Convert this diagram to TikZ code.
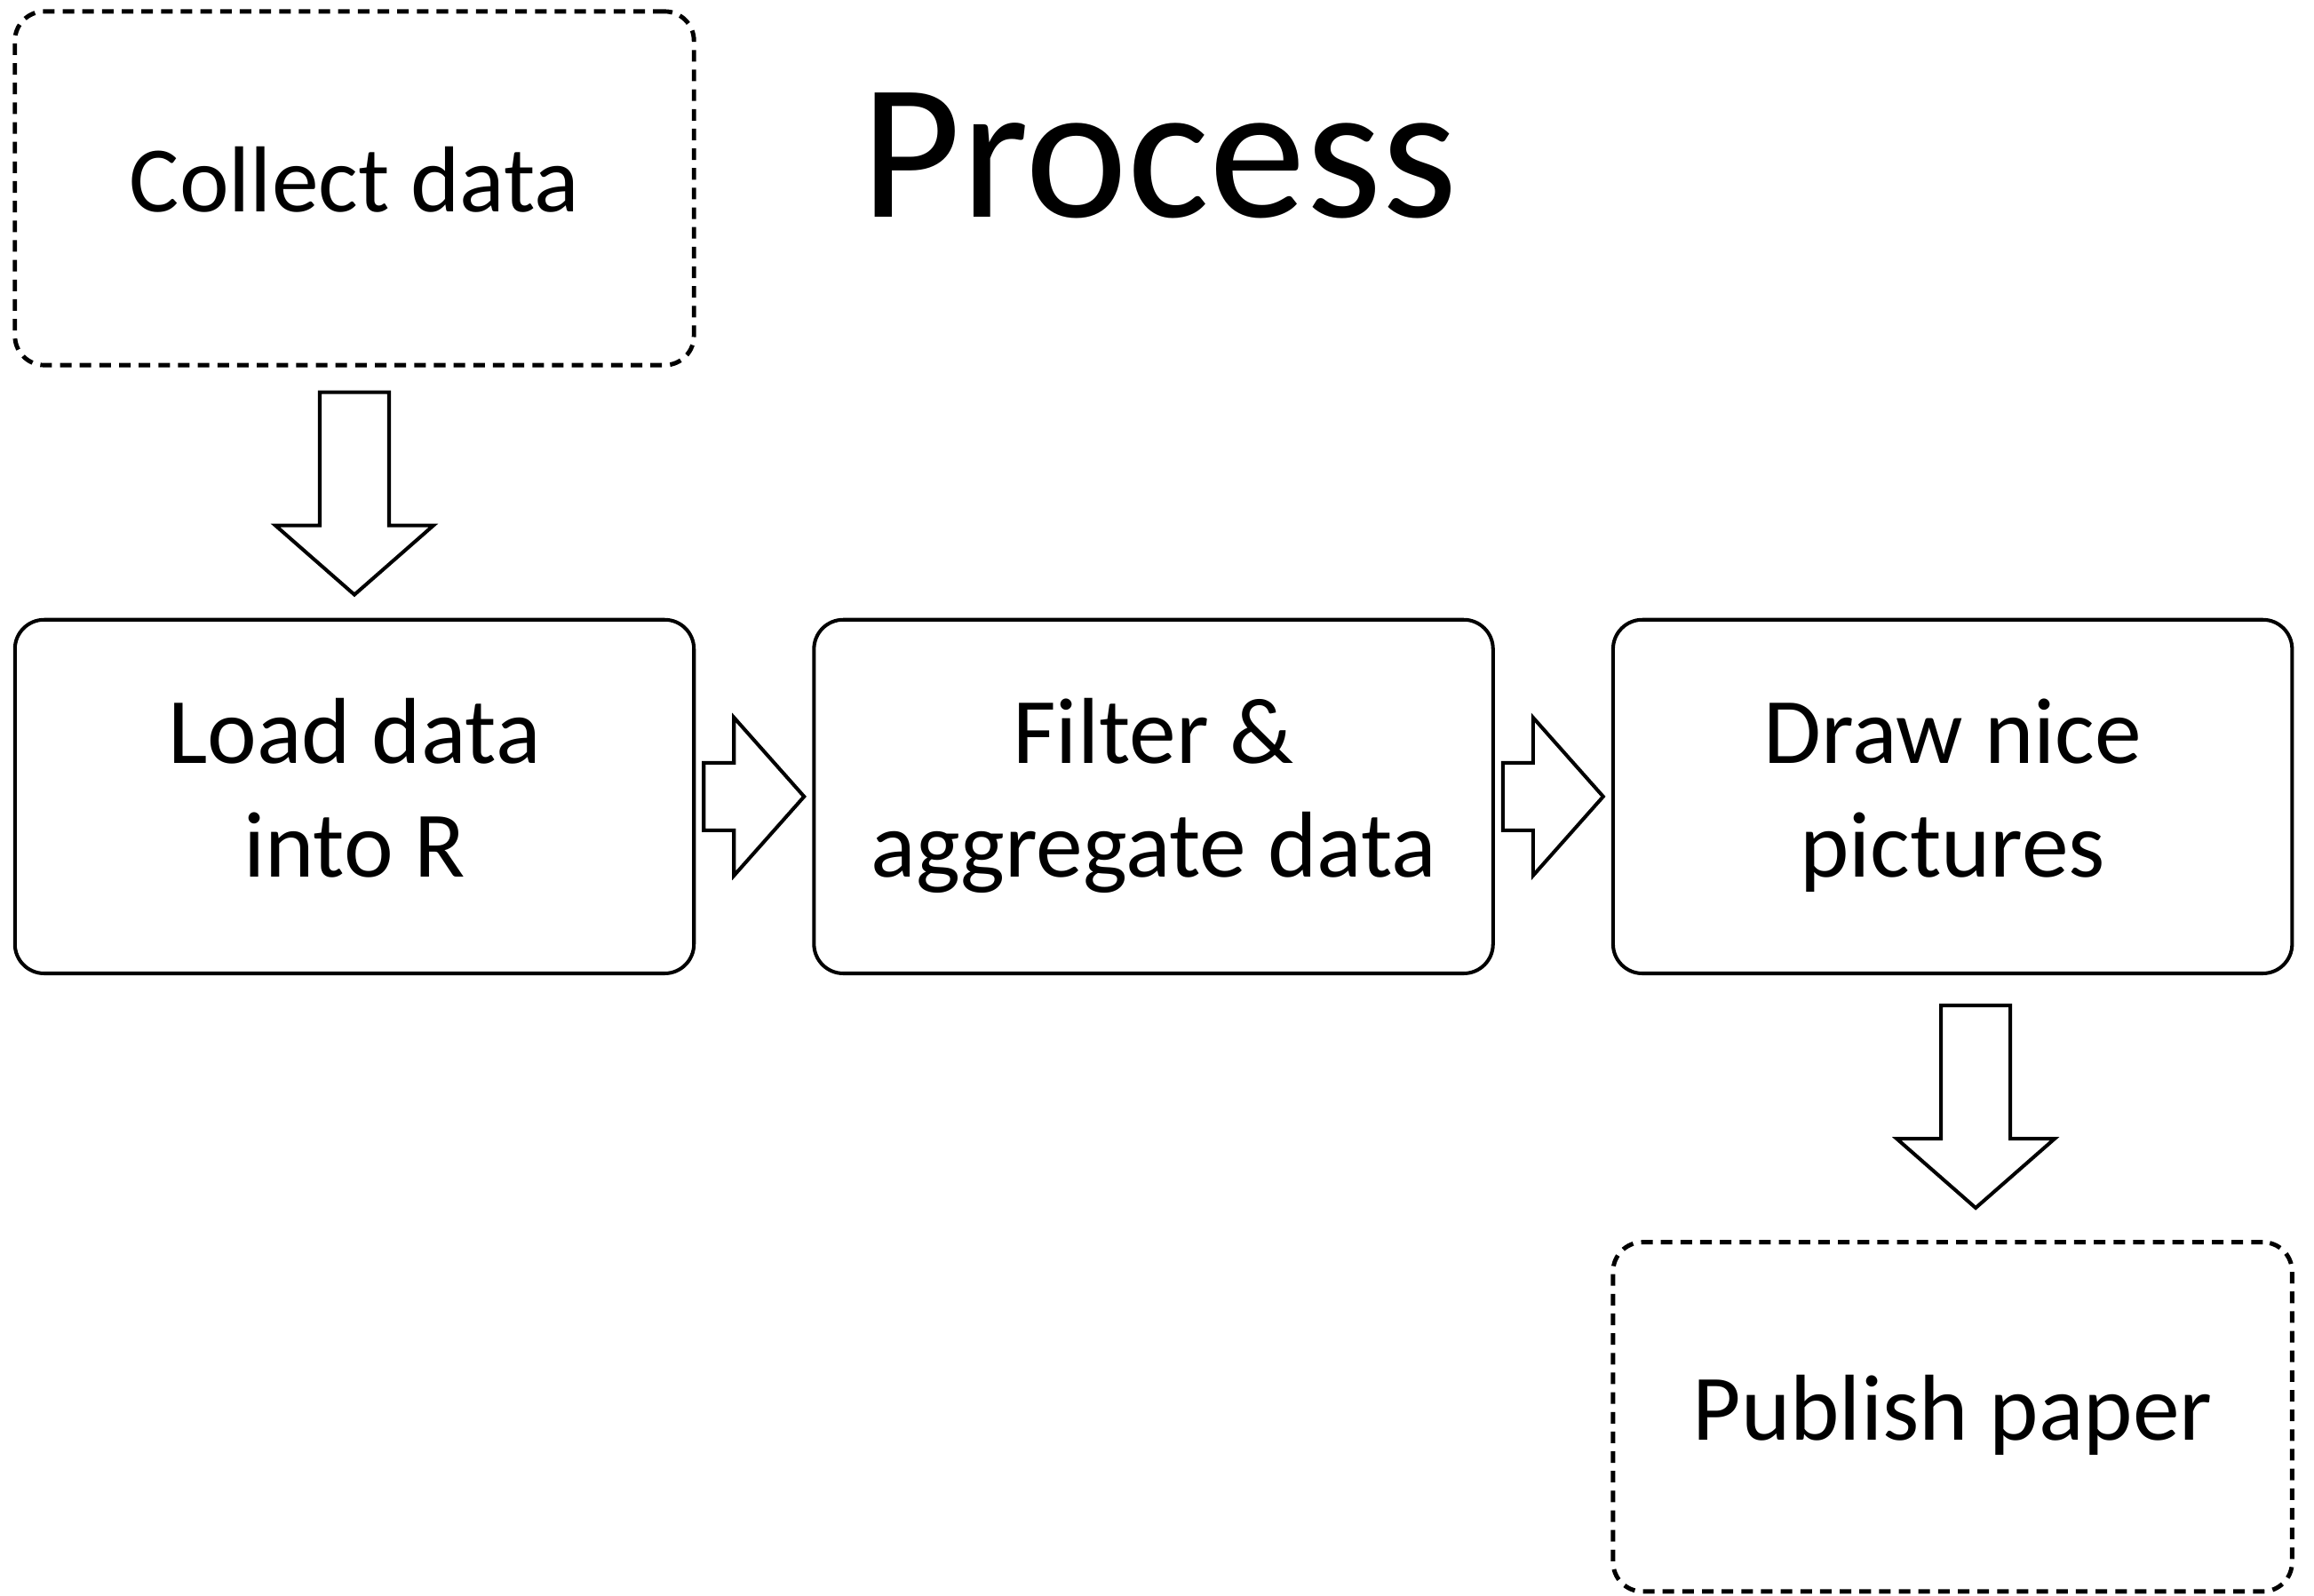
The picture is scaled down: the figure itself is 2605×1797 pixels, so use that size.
\documentclass[tikz,border=0pt]{standalone}
\usepackage{fontspec}
\setmainfont{Carlito}
\usepackage{tikz}
\usetikzlibrary{positioning,calc}

\tikzset{
  stepbox/.style={draw, line width=1.15pt, rounded corners=0.33cm, minimum width=7.64cm, minimum height=3.98cm, inner sep=0pt, align=center, text depth=0.2cm, font=\fontsize{30}{36.4}\selectfont},
  dashbox/.style={stepbox, line width=1.4pt, dash pattern=on 3.7pt off 2.6pt},
  blockline/.style={draw, line width=1.15pt, fill=white},
  downarr/.pic={\draw[blockline] (-39,0) -- (39,0) -- (39,150) -- (89,150) -- (0,228) -- (-89,150) -- (-39,150) -- cycle;},
  rightarr/.pic={\draw[blockline] (0,-38) -- (34,-38) -- (34,-89) -- (113,0) -- (34,89) -- (34,38) -- (0,38) -- cycle;}
}

\begin{document}
\begin{tikzpicture}[x=0.01cm, y=-0.01cm]
    \useasboundingbox (0,0) rectangle (2605,1797);

    % Title
    \node[anchor=base, font=\fontsize{62}{70}\selectfont, inner sep=0pt] (title) at (1305,245) {Process};

    % Boxes
    \node[dashbox] (collect) at (399,212) {Collect data};
    \node[stepbox, below=2.82cm of collect] (load) {Load data\\into R};
    \node[stepbox, right=1.31cm of load] (filter) {Filter \&\\aggregate data};
    \node[stepbox, right=1.31cm of filter] (drawpic) {Draw nice\\pictures};
    \node[dashbox, minimum height=3.93cm, below=2.98cm of drawpic] (publish) {Publish paper};

    % Arrows
    \pic at ($(collect.south)+(0,28)$) {downarr};
    \pic at ($(load.east)+(9,0)$) {rightarr};
    \pic at ($(filter.east)+(9,0)$) {rightarr};
    \pic at ($(drawpic.south)+(26,34)$) {downarr};
\end{tikzpicture}
\end{document}
